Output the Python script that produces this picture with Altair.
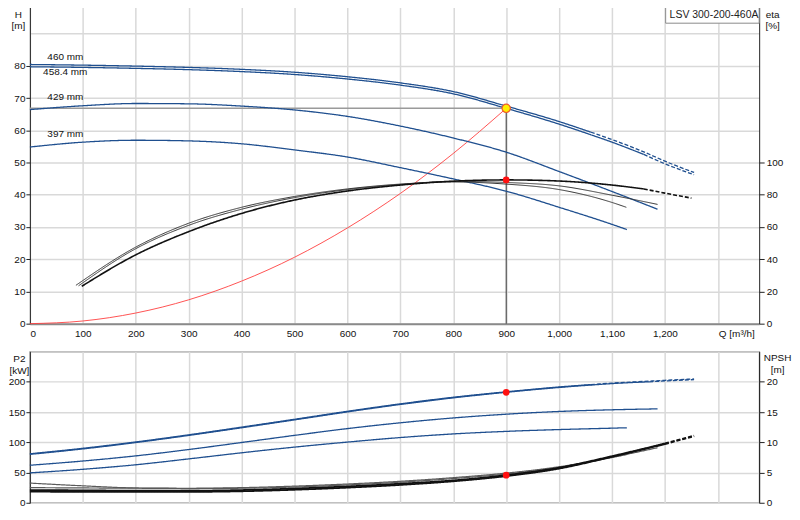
import altair as alt
import pandas as pd

FONT = "Liberation Sans"
BLUE = "#1f4f8f"
BLACK = "#111111"
DARKGRAY = "#5a5a5a"
RED = "#ff4040"

model_name = "LSV 300-200-460A"
Q_MAX = 1378
q_ticks = list(range(0, 1301, 100))

# ---------------- Head curves H [m] ----------------
q_h_main = [0, 100, 200, 300, 400, 500, 600, 700, 800, 900, 1000, 1060, 1100, 1160, 1200, 1255]
h_460 = [80.4, 80.2, 79.9, 79.5, 78.9, 78.0, 76.6, 74.7, 72.0, 67.5, 62.7, 59.4, 57.1, 53.3, 50.4, 46.9]
h_4584 = [79.7, 79.5, 79.2, 78.8, 78.2, 77.3, 75.9, 74.0, 71.3, 66.8, 61.9, 58.6, 56.3, 52.5, 49.6, 46.2]
q_h_429 = [0, 100, 200, 300, 400, 500, 600, 700, 800, 900, 1000, 1100, 1186]
h_429 = [66.4, 67.6, 68.3, 68.2, 67.5, 66.3, 64.3, 61.3, 57.6, 53.2, 47.2, 41.0, 35.5]
q_h_397 = [0, 100, 200, 300, 400, 500, 600, 700, 800, 900, 1000, 1100, 1128]
h_397 = [54.8, 56.3, 56.9, 56.7, 55.8, 53.9, 51.7, 48.4, 44.9, 41.1, 36.1, 30.8, 29.2]

# system curve
q_sys = [0, 100, 200, 300, 400, 500, 600, 700, 800, 900]
h_sys = [0, 0.83, 3.3, 7.4, 13.2, 20.6, 29.7, 40.4, 52.8, 66.8]

# ---------------- Efficiency eta [%] ----------------
q_e_460 = [98, 200, 300, 400, 500, 600, 700, 800, 900, 1000, 1100, 1160, 1200, 1250]
eta_460 = [23.2, 42.7, 57.1, 68.4, 76.7, 82.3, 86.0, 88.4, 89.2, 88.5, 86.0, 83.6, 81.0, 77.9]
q_e_429 = [92, 200, 300, 400, 500, 600, 700, 800, 900, 1000, 1100, 1186]
eta_429 = [23.5, 46.5, 61.0, 71.0, 78.2, 83.2, 86.4, 88.3, 87.6, 85.5, 79.7, 74.0]
q_e_397 = [87, 200, 300, 400, 500, 600, 700, 800, 900, 1000, 1100, 1127]
eta_397 = [23.8, 47.5, 62.3, 72.2, 78.9, 83.6, 86.6, 87.9, 86.6, 83.2, 75.2, 72.2]

# ---------------- Power P2 [kW] ----------------
q_p_main = [0, 100, 200, 300, 400, 500, 600, 700, 800, 900, 1000, 1060, 1100, 1170, 1200, 1255]
p_460 = [81, 90.0, 100.5, 112.3, 125.0, 138.0, 151.2, 163.5, 174.4, 183.4, 191.4, 195.4, 197.8, 201.0, 202.4, 204.6]
p_4584 = [80, 89.0, 99.5, 111.3, 124.0, 137.0, 150.2, 162.5, 173.4, 182.6, 190.6, 194.6, 197.0, 200.0, 201.4, 203.6]
q_p_429 = [0, 100, 200, 300, 400, 500, 600, 700, 800, 900, 1000, 1100, 1186]
p_429 = [62, 69.0, 77.5, 88.0, 99.6, 111.4, 122.6, 132.2, 140.2, 146.4, 150.9, 153.7, 155.2]
q_p_397 = [0, 100, 200, 300, 400, 500, 600, 700, 800, 900, 1000, 1100, 1128]
p_397 = [49.4, 55.3, 62.8, 72.5, 82.6, 92.0, 100.3, 107.8, 113.8, 118.0, 121.0, 123.3, 124.0]

# ---------------- NPSH [m] ----------------
q_n_main = [0, 100, 200, 300, 400, 500, 600, 700, 800, 900, 1000, 1100, 1200, 1255]
n_460 = [2.1, 2.05, 2.0, 2.0, 2.1, 2.35, 2.7, 3.15, 3.7, 4.56, 5.8, 7.7, 9.8, 11.1]
n_4584 = [1.85, 1.8, 1.8, 1.8, 1.9, 2.15, 2.5, 2.95, 3.55, 4.4, 5.65, 7.6, 9.7, 11.0]
q_n_429 = [0, 100, 200, 300, 400, 500, 600, 700, 800, 900, 1000, 1100, 1186]
n_429 = [2.5, 2.45, 2.4, 2.35, 2.4, 2.6, 2.95, 3.4, 4.0, 4.75, 5.85, 7.5, 9.1]
q_n_397 = [0, 100, 200, 300, 400, 500, 600, 700, 800, 900, 1000, 1100, 1128]
n_397 = [3.25, 2.8, 2.45, 2.4, 2.5, 2.75, 3.1, 3.55, 4.15, 4.9, 5.95, 7.5, 8.0]

# duty point
duty_q = 900
duty_h = 66.8
duty_eta = 89.2
duty_p2 = 182.6
duty_npsh = 4.56

# impeller labels
label_text = ["460 mm", "458.4 mm", "429 mm", "397 mm"]
label_q = [33, 25, 33, 33]
label_h = [82.8, 78.2, 70.2, 58.8]


def curve_rows(name, qs, vals, dash_from=None):
    rows = []
    for q, v in zip(qs, vals):
        if dash_from is None or q <= dash_from:
            rows.append(dict(key=name + "_s", seg="solid", Q=q, v=v))
        if dash_from is not None and q >= dash_from:
            rows.append(dict(key=name + "_d", seg="dash", Q=q, v=v))
    return rows


dash_scale = alt.Scale(domain=["solid", "dash"], range=[[1, 0], [4, 2]])

xscale = alt.Scale(domain=[0, Q_MAX], nice=False, zero=True)
xaxis_top = alt.Axis(
    values=q_ticks,
    labelExpr="datum.value == 1300 ? '' : format(datum.value, ',')",
    ticks=False, labelPadding=5, grid=True,
    domainColor="#8a8a8a", domainWidth=2,
    title="Q [m³/h]", titleX=692, titleY=10, titleAlign="left",
    titleBaseline="middle", titleFontWeight="normal", titleFontSize=10,
)
xaxis_bot = alt.Axis(values=q_ticks, labels=False, ticks=False, grid=True,
                     domain=False, title=None)
x_top = alt.X("Q:Q", scale=xscale, axis=xaxis_top)
x_bot = alt.X("Q:Q", scale=xscale, axis=xaxis_bot)


def ycond(limit):
    return {"condition": {"test": f"datum.value <= {limit}", "value": 1}, "value": 0}


hscale = alt.Scale(domain=[0, 100], nice=False)
haxis = alt.Axis(
    values=list(range(0, 101, 10)),
    labelExpr="datum.value <= 80 ? datum.value : ''",
    tickOpacity=ycond(80), tickSize=4, labelPadding=1, grid=True,
    domainColor="#222", title=["H", "[m]"], titleAngle=0, titleX=-12,
    titleY=8, titleAlign="center", titleBaseline="top",
    titleFontWeight="normal", titleFontSize=10, titleLineHeight=11,
)
y_h = alt.Y("v:Q", scale=hscale, axis=haxis)
y_eta = alt.Y(
    "v:Q",
    scale=alt.Scale(domain=[0, 200], nice=False),
    axis=alt.Axis(
        orient="right", values=list(range(0, 101, 20)), grid=False,
        tickSize=5, labelPadding=2, domainColor="#222",
        title=["eta", "[%]"], titleAngle=0, titleX=13, titleY=8,
        titleAlign="center", titleBaseline="top", titleFontWeight="normal",
        titleFontSize=10, titleLineHeight=11,
    ),
)
y_p = alt.Y(
    "v:Q",
    scale=alt.Scale(domain=[0, 250], nice=False),
    axis=alt.Axis(
        values=list(range(0, 251, 50)),
        labelExpr="datum.value <= 200 ? datum.value : ''",
        tickOpacity=ycond(200), tickSize=4, labelPadding=1, grid=True,
        domainColor="#222", title=["P2", "[kW]"], titleAngle=0, titleX=-11,
        titleY=2, titleAlign="center", titleBaseline="top",
        titleFontWeight="normal", titleFontSize=10, titleLineHeight=12,
    ),
)
y_n = alt.Y(
    "v:Q",
    scale=alt.Scale(domain=[0, 25], nice=False),
    axis=alt.Axis(
        orient="right", values=list(range(0, 21, 5)), grid=False,
        tickSize=5, labelPadding=2, domainColor="#222",
        title=["NPSH", "[m]"], titleAngle=0, titleX=18, titleY=1,
        titleAlign="center", titleBaseline="top", titleFontWeight="normal",
        titleFontSize=10, titleLineHeight=12,
    ),
)


def lines(rows, color, width, x, y):
    df = pd.DataFrame(rows)
    return alt.Chart(df).mark_line(
        color=color, strokeWidth=width, interpolate="monotone"
    ).encode(
        x=x, y=y, detail="key:N",
        strokeDash=alt.StrokeDash("seg:N", scale=dash_scale, legend=None),
    )


def dot(q, v, x, y):
    return alt.Chart(pd.DataFrame({"Q": [q], "v": [v]})).mark_circle(
        color="#ff1010", size=45, opacity=1
    ).encode(x=x, y=y)


# ---------- top chart ----------
h_rows = (curve_rows("h460", q_h_main, h_460, 1060)
          + curve_rows("h4584", q_h_main, h_4584, 1160)
          + curve_rows("h429", q_h_429, h_429)
          + curve_rows("h397", q_h_397, h_397))
h_lines = lines(h_rows, BLUE, 1.3, x_top, y_h)

sys_line = alt.Chart(pd.DataFrame({"Q": q_sys, "v": h_sys})).mark_line(
    color=RED, strokeWidth=0.9, interpolate="monotone"
).encode(x=x_top, y=y_h)

duty_df = pd.DataFrame({"Q0": [0], "Q": [duty_q], "v0": [0], "v": [duty_h]})
duty_hline = alt.Chart(duty_df).mark_rule(color="#9a9a9a", strokeWidth=1.5).encode(
    x=alt.X("Q0:Q", scale=xscale, axis=xaxis_top), x2="Q:Q", y=y_h)
duty_vline = alt.Chart(duty_df).mark_rule(color="#333333", strokeWidth=1).encode(
    x=x_top, y=alt.Y("v0:Q", scale=hscale, axis=haxis), y2="v:Q")
duty_pt = alt.Chart(pd.DataFrame({"Q": [duty_q], "v": [duty_h]})).mark_point(
    shape="circle", filled=True, fill="#ffee00", stroke="#f05a28",
    strokeWidth=1.2, size=70, opacity=1
).encode(x=x_top, y=y_h)

labels = alt.Chart(pd.DataFrame({"Q": label_q, "v": label_h, "t": label_text})).mark_text(
    align="left", baseline="middle", font=FONT, fontSize=10, color="#111"
).encode(x=x_top, y=y_h, text="t:N")

box_df = pd.DataFrame({"name": [model_name]})
legend_box = alt.Chart(box_df).mark_rect(
    fill="white", stroke="#8a8a8a", strokeWidth=1
).encode(x=alt.value(639), x2=alt.value(733), y=alt.value(0), y2=alt.value(22))
legend_txt = alt.Chart(box_df).mark_text(
    align="left", baseline="middle", font=FONT, fontSize=10.5, color="#222"
).encode(x=alt.value(643), y=alt.value(14), text="name:N")

e_main = lines(curve_rows("e460", q_e_460, eta_460, 1160), BLACK, 1.6, x_top, y_eta)
e_other = lines(curve_rows("e429", q_e_429, eta_429)
                + curve_rows("e397", q_e_397, eta_397), "#333333", 1.0, x_top, y_eta)

h_group = alt.layer(sys_line, duty_hline, duty_vline, h_lines, labels, duty_pt,
                    legend_box, legend_txt)
eta_group = alt.layer(e_other, e_main, dot(duty_q, duty_eta, x_top, y_eta))
top = alt.layer(h_group, eta_group).resolve_scale(y="independent").properties(
    width=733, height=324, view=alt.ViewConfig(stroke="transparent"))

# ---------- bottom chart ----------
p_rows = (curve_rows("p460", q_p_main, p_460, 1060)
          + curve_rows("p4584", q_p_main, p_4584, 1170)
          + curve_rows("p429", q_p_429, p_429)
          + curve_rows("p397", q_p_397, p_397))
p_group = alt.layer(lines(p_rows, BLUE, 1.3, x_bot, y_p), dot(duty_q, duty_p2, x_bot, y_p))

n_main = lines(curve_rows("n460", q_n_main, n_460, 1200)
               + curve_rows("n4584", q_n_main, n_4584, 1200), BLACK, 1.8, x_bot, y_n)
n_other = lines(curve_rows("n429", q_n_429, n_429)
                + curve_rows("n397", q_n_397, n_397), DARKGRAY, 1.2, x_bot, y_n)
n_group = alt.layer(n_other, n_main, dot(duty_q, duty_npsh, x_bot, y_n))

bottom = alt.layer(p_group, n_group).resolve_scale(y="independent").properties(
    width=733, height=152, view=alt.ViewConfig(stroke="#555555", strokeWidth=1.2))

chart = alt.vconcat(top, bottom, spacing=11).properties(
    padding={"left": -1, "top": -9, "right": 0, "bottom": 0},
    background="white",
).configure_axis(
    labelFont=FONT, titleFont=FONT, labelFontSize=10, labelColor="#111",
    titleColor="#111", gridColor="#d9d9d9", gridWidth=1.5, tickColor="#222",
).configure_view(stroke="transparent")

chart.save("out.html", embed_options={"renderer": "svg", "actions": False})
